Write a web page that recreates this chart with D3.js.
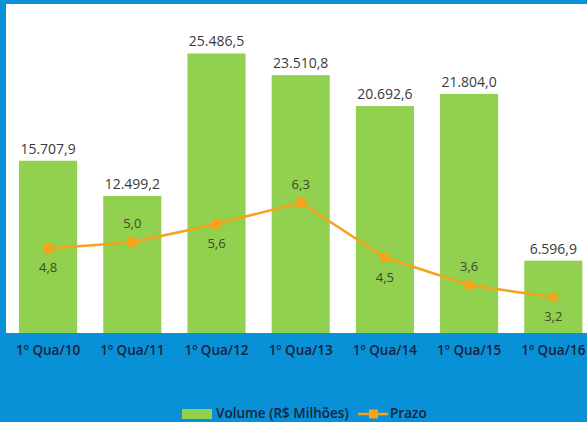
<!DOCTYPE html>
<html>
<head>
<meta charset="utf-8">
<script src="https://cdnjs.cloudflare.com/ajax/libs/d3/7.8.5/d3.min.js"></script>
<style>
  body { margin: 0; background: #0891d6; }
  svg { display: block; font-family: "Open Sans", sans-serif; }
</style>
</head>
<body>
<svg id="chart"></svg>
<script>
var width = 587, height = 422;

// data
var quarters = ["1º Qua/10", "1º Qua/11", "1º Qua/12", "1º Qua/13", "1º Qua/14", "1º Qua/15", "1º Qua/16"];
var volume = [15707.9, 12499.2, 25486.5, 23510.8, 20692.6, 21804.0, 6596.9];
var prazo = [4.8, 5.0, 5.6, 6.3, 4.5, 3.6, 3.2];
var prazoLabelAbove = [false, true, false, true, false, true, false];
var seriesNames = ["Volume (R$ Milhões)", "Prazo"];

var green = "#92d050", orange = "#f7a21b", blue = "#0891d6", ink = "#18223f";

var fmtVol = function(v) {
  return d3.format(",.1f")(v).replace(/,/g, "#").replace(".", ",").replace(/#/g, ".");
};
var fmtPrazo = function(v) { return d3.format(".1f")(v).replace(".", ","); };

var svg = d3.select("#chart").attr("width", width).attr("height", height);

svg.append("rect").attr("width", width).attr("height", height).attr("fill", blue);

var plot = { left: 6, top: 4, bottom: 333 };
svg.append("rect")
  .attr("x", plot.left).attr("y", plot.top)
  .attr("width", width - plot.left).attr("height", plot.bottom - plot.top)
  .attr("fill", "#fff");

var x = d3.scaleBand().domain(quarters).range([6, 595.4]).paddingInner(0.31).paddingOuter(0.155);
var y = d3.scaleLinear().domain([0, 30000]).range([plot.bottom, plot.top]);
var y2 = d3.scaleLinear().domain([2.03, 12.8]).range([plot.bottom, plot.top]);

var rows = quarters.map(function(q, i) { return { q: q, vol: volume[i], prazo: prazo[i], above: prazoLabelAbove[i] }; });

// bars
svg.append("g").selectAll("rect")
  .data(rows).enter().append("rect")
  .attr("x", d => x(d.q))
  .attr("y", d => y(d.vol))
  .attr("width", x.bandwidth())
  .attr("height", d => plot.bottom - y(d.vol))
  .attr("fill", green);

svg.append("g").selectAll("text")
  .data(rows).enter().append("text")
  .attr("x", d => x(d.q) + x.bandwidth() / 2)
  .attr("y", d => y(d.vol) - 7)
  .attr("text-anchor", "middle")
  .attr("font-size", 14)
  .attr("fill", "#3a3a3a")
  .text(d => fmtVol(d.vol));

// line
var line = d3.line()
  .x(d => x(d.q) + x.bandwidth() / 2)
  .y(d => y2(d.prazo));

svg.append("path").datum(rows)
  .attr("d", line)
  .attr("fill", "none")
  .attr("stroke", orange)
  .attr("stroke-width", 2.5);

svg.append("g").selectAll("rect")
  .data(rows).enter().append("rect")
  .attr("x", d => x(d.q) + x.bandwidth() / 2 - 4.5)
  .attr("y", d => y2(d.prazo) - 4.5)
  .attr("width", 9).attr("height", 9)
  .attr("fill", orange);

svg.append("g").selectAll("text")
  .data(rows).enter().append("text")
  .attr("x", d => x(d.q) + x.bandwidth() / 2)
  .attr("y", d => y2(d.prazo) + (d.above ? -14 : 24))
  .attr("text-anchor", "middle")
  .attr("font-size", 13)
  .attr("fill", "#3d4a2a")
  .text(d => fmtPrazo(d.prazo));

// x axis
var xAxis = svg.append("g")
  .attr("transform", "translate(0," + plot.bottom + ")")
  .call(d3.axisBottom(x).tickSize(0).tickPadding(12));
xAxis.select(".domain").remove();
xAxis.selectAll("text")
  .attr("font-family", "Open Sans, sans-serif")
  .attr("font-size", 13.5)
  .attr("font-weight", 600)
  .attr("fill", ink);

// legend
var legend = svg.append("g").attr("font-size", 13.5).attr("font-weight", 600).attr("fill", ink);
legend.append("rect").attr("x", 182).attr("y", 409).attr("width", 30).attr("height", 10).attr("fill", green);
legend.append("text").attr("x", 216).attr("y", 418).text(seriesNames[0]);
legend.append("line").attr("x1", 358).attr("x2", 388).attr("y1", 414).attr("y2", 414)
  .attr("stroke", orange).attr("stroke-width", 2.5);
legend.append("rect").attr("x", 369).attr("y", 409.5).attr("width", 9).attr("height", 9).attr("fill", orange);
legend.append("text").attr("x", 390).attr("y", 418).text(seriesNames[1]);
</script>
</body>
</html>
